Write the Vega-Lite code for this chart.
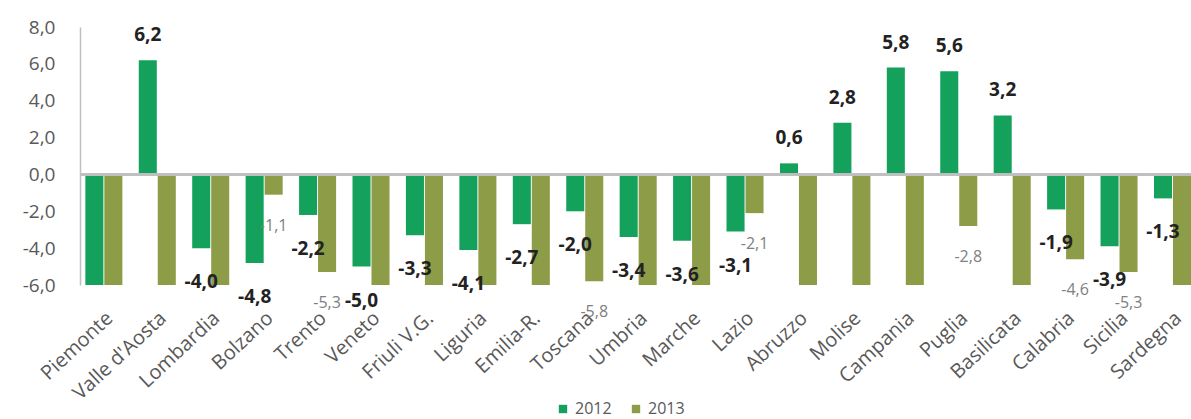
{
  "$schema": "https://vega.github.io/schema/vega-lite/v6.json",
  "width": 1111,
  "height": 258,
  "autosize": {"type": "none"},
  "padding": {"left": 80, "top": 27, "right": 0, "bottom": 134},
  "background": "white",
  "config": {
    "view": {"stroke": null},
    "font": "Open Sans",
    "locale": {"number": {"decimal": ",", "thousands": ".", "grouping": [3], "currency": ["€", ""], "minus": "-"}}
  },
  "data": {
    "values": [
      {"region": "Piemonte", "year": "2012", "value": -7.0},
      {"region": "Piemonte", "year": "2013", "value": -7.0},
      {"region": "Valle d'Aosta", "year": "2012", "value": 6.2},
      {"region": "Valle d'Aosta", "year": "2013", "value": -7.0},
      {"region": "Lombardia", "year": "2012", "value": -4.0},
      {"region": "Lombardia", "year": "2013", "value": -7.0},
      {"region": "Bolzano", "year": "2012", "value": -4.8},
      {"region": "Bolzano", "year": "2013", "value": -1.1},
      {"region": "Trento", "year": "2012", "value": -2.2},
      {"region": "Trento", "year": "2013", "value": -5.3},
      {"region": "Veneto", "year": "2012", "value": -5.0},
      {"region": "Veneto", "year": "2013", "value": -7.0},
      {"region": "Friuli V.G.", "year": "2012", "value": -3.3},
      {"region": "Friuli V.G.", "year": "2013", "value": -7.0},
      {"region": "Liguria", "year": "2012", "value": -4.1},
      {"region": "Liguria", "year": "2013", "value": -7.0},
      {"region": "Emilia-R.", "year": "2012", "value": -2.7},
      {"region": "Emilia-R.", "year": "2013", "value": -7.0},
      {"region": "Toscana", "year": "2012", "value": -2.0},
      {"region": "Toscana", "year": "2013", "value": -5.8},
      {"region": "Umbria", "year": "2012", "value": -3.4},
      {"region": "Umbria", "year": "2013", "value": -7.0},
      {"region": "Marche", "year": "2012", "value": -3.6},
      {"region": "Marche", "year": "2013", "value": -7.0},
      {"region": "Lazio", "year": "2012", "value": -3.1},
      {"region": "Lazio", "year": "2013", "value": -2.1},
      {"region": "Abruzzo", "year": "2012", "value": 0.6},
      {"region": "Abruzzo", "year": "2013", "value": -7.0},
      {"region": "Molise", "year": "2012", "value": 2.8},
      {"region": "Molise", "year": "2013", "value": -7.0},
      {"region": "Campania", "year": "2012", "value": 5.8},
      {"region": "Campania", "year": "2013", "value": -7.0},
      {"region": "Puglia", "year": "2012", "value": 5.6},
      {"region": "Puglia", "year": "2013", "value": -2.8},
      {"region": "Basilicata", "year": "2012", "value": 3.2},
      {"region": "Basilicata", "year": "2013", "value": -7.0},
      {"region": "Calabria", "year": "2012", "value": -1.9},
      {"region": "Calabria", "year": "2013", "value": -4.6},
      {"region": "Sicilia", "year": "2012", "value": -3.9},
      {"region": "Sicilia", "year": "2013", "value": -5.3},
      {"region": "Sardegna", "year": "2012", "value": -1.3},
      {"region": "Sardegna", "year": "2013", "value": -7.0}
    ]
  },
  "encoding": {
    "x": {
      "field": "region",
      "type": "nominal",
      "sort": null,
      "scale": {"paddingInner": 0.307, "paddingOuter": 0.05, "align": 1},
      "axis": {
        "title": null,
        "domain": false,
        "ticks": false,
        "labelAngle": -43,
        "labelAlign": "right",
        "labelBaseline": "middle",
        "labelPadding": 30,
        "labelOffset": 6,
        "labelFontSize": 20,
        "labelColor": "#595959",
        "labelFont": "Open Sans"
      }
    },
    "xOffset": {"field": "year", "type": "nominal", "scale": {"paddingInner": 0.05}},
    "y": {
      "field": "value",
      "type": "quantitative",
      "scale": {"domain": [-6, 8], "clamp": true, "nice": false, "zero": true},
      "axis": {
        "title": null,
        "values": [-6, -4, -2, 0, 2, 4, 6, 8],
        "format": ".1f",
        "grid": false,
        "ticks": false,
        "domainColor": "#bfbfbf",
        "domainWidth": 1.5,
        "labelFontSize": 19,
        "labelColor": "#595959",
        "labelPadding": 25,
        "labelFont": "Open Sans"
      }
    }
  },
  "layer": [
    {
      "mark": {"type": "bar"},
      "encoding": {
        "color": {
          "field": "year",
          "type": "nominal",
          "scale": {"domain": ["2012", "2013"], "range": ["#14a15c", "#8d9c47"]},
          "legend": {
            "title": null,
            "orient": "none",
            "legendX": 475,
            "legendY": 374,
            "direction": "horizontal",
            "symbolType": "square",
            "symbolSize": 70,
            "labelFontSize": 16,
            "labelFont": "Open Sans",
            "labelColor": "#595959",
            "columnPadding": 16
          }
        }
      }
    },
    {
      "mark": {"type": "rule", "color": "#bfbfbf", "strokeWidth": 1.5},
      "encoding": {"y": {"datum": 0}, "x": null, "xOffset": null}
    },
    {
      "transform": [{"filter": "datum.year == '2012' && datum.value > 0"}],
      "mark": {"type": "text", "dy": -25, "fontSize": 19, "fontWeight": "bold", "color": "#222222", "baseline": "middle"},
      "encoding": {"text": {"field": "value", "type": "quantitative", "format": ".1f"}}
    },
    {
      "transform": [{"filter": "datum.year == '2012' && datum.value < 0 && datum.value >= -6"}],
      "mark": {"type": "text", "dy": 34, "fontSize": 19, "fontWeight": "bold", "color": "#222222", "baseline": "middle"},
      "encoding": {"text": {"field": "value", "type": "quantitative", "format": ".1f"}}
    },
    {
      "transform": [{"filter": "datum.year == '2013' && datum.value < 0 && datum.value >= -6"}],
      "mark": {"type": "text", "dy": 31, "fontSize": 16, "color": "#808080", "baseline": "middle"},
      "encoding": {"text": {"field": "value", "type": "quantitative", "format": ".1f"}}
    }
  ]
}
